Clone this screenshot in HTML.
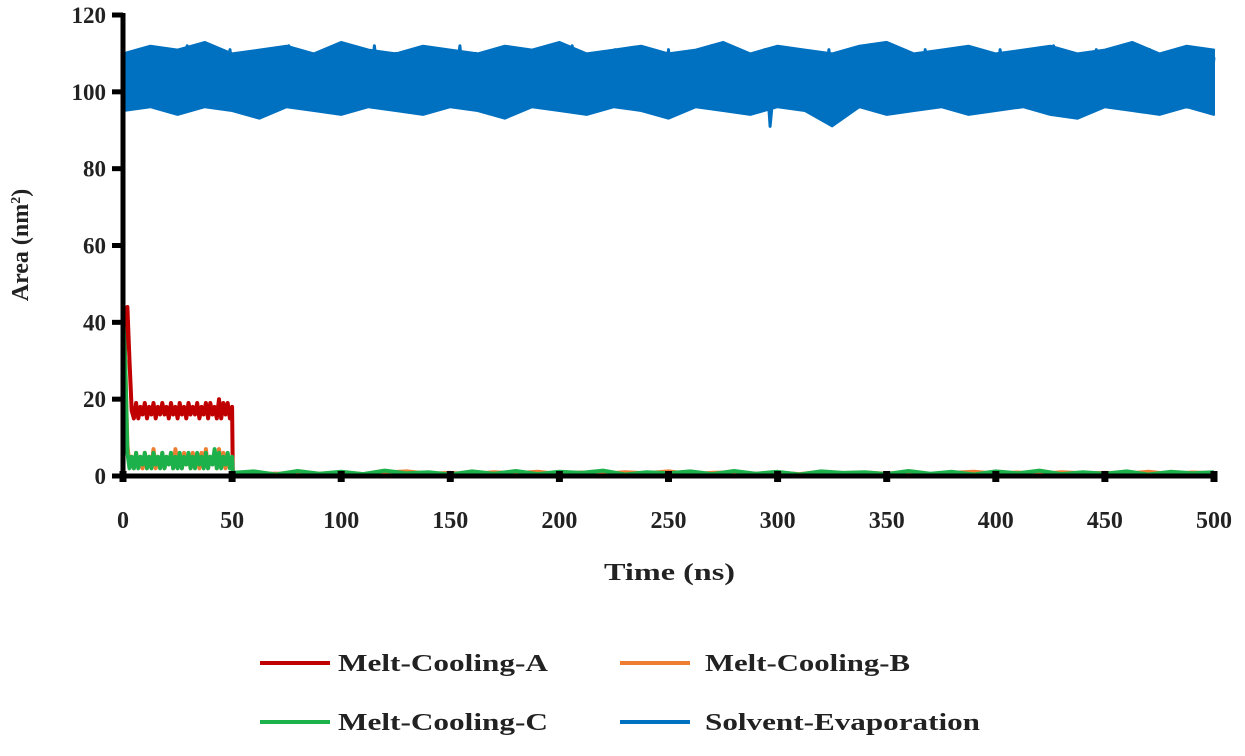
<!DOCTYPE html>
<html><head><meta charset="utf-8"><style>
body{margin:0;background:#fff}
svg text{font-family:"Liberation Serif",serif;font-weight:bold;fill:#222}
</style></head><body>
<svg id="c" width="1245" height="751" viewBox="0 0 1245 751"></svg>
<script>
const xTicks=[0,50,100,150,200,250,300,350,400,450,500];
const yTicks=[0,20,40,60,80,100,120];
const blueHigh=[110,112,111,113,110,111,112,110,113,111,110,112,111,110,112,111,113,110,111,112,110,111,113,110,112,111,110,112,113,110,111,112,110,111,112,110,111,113,110,112,111];
const blueLow=[95,96,94,96,95,93,96,95,94,96,95,94,96,95,93,96,95,94,96,95,93,96,95,94,96,95,91,96,94,95,96,94,95,96,94,93,96,95,94,96,94];
const blueVals=[96,104,109,98,111,100,107,97,110,102,106,96,112,99,108,101,110,97,105,99,111,98,107,102,109,96,104,110,99,106,97,112,101,108,98,110,100,105,97,111,99,107,96,109,102,106,98,112,100,104,97,110,101,108,99,111,96,105,102,109,98,107,100,112,97,104,110,99,106,101,108,96,111,100,105,98,109,97,107,102,110,99,104,96,112,101,106,98,109,100,107,97,111,99,105,102,108,96,110,100,104,98,111,97,107,101,109,99,106,96,112,100,105,98,110,102,107,97,108,99,111,91,106,101,109,98,104,96,110,100,107,99,111,97,105,102,108,98,110,96,106,101,112,99,104,97,109,100,107,98,111,96,105,102,108,99,110,97,106,100,109,98,104,96,111,101,107,99,110,97,105,102,108,98,112,96,106,100,109,99,104,97,111,101,107,98,110,96,105,100,108,99,111,97,106,102,109,98,104,96,110,100,107,95,109];
const redEarly=[0,36,44,30,17,15,19,15,18,16,19,15,18,16,19,15,18,16,19,16,18,15,19,16,18,15,19,16,18,15,19,16,18,16,19,15,18,16,19,15,19,16,18,15,20,15,19,16,19,15,18];
const orangeEarly=[0,30,8,3,5,2,6,3,5,2,6,2,5,3,7,2,5,3,6,2,5,3,6,2,7,3,5,2,6,3,5,2,6,3,5,2,6,3,7,2,5,3,6,2,7,3,6,2,5,3,5];
const greenEarly=[42,30,6,2,5,2,6,2,5,3,6,2,5,2,6,3,5,2,6,2,5,3,6,2,5,2,6,2,5,3,6,2,5,2,6,3,5,2,6,2,5,3,7,2,6,2,5,3,6,2,5];
const redLate=[0.5,0.4,0.6,0.3,0.5,0.6,0.4,0.5,0.3,0.6,0.5,0.4,0.6,0.5,0.3,0.5,0.6,0.4,0.5,0.3,0.6,0.4,0.5,0.6,0.4,0.5,0.3,0.6,0.5,0.4,0.6,0.5,0.3,0.5,0.6,0.4,0.5,0.3,0.6,0.4,0.5,0.6,0.4,0.5,0.3,0.5];
const orangeLate=[0.7,0.9,0.5,1.1,0.6,1.0,0.5,0.9,1.2,0.6,0.8,0.5,1.0,0.7,1.1,0.5,0.9,0.6,1.0,0.7,1.2,0.5,0.8,1.0,0.6,0.9,0.5,1.1,0.7,0.9,0.6,1.0,0.5,0.8,1.1,0.6,0.9,0.5,1.0,0.7,0.8,0.6,1.1,0.5,0.9,0.7];
const greenLate=[0.8,1.2,0.4,1.3,0.6,1.1,0.5,1.4,0.7,1.0,0.4,1.2,0.6,1.3,0.5,1.1,0.8,1.4,0.4,1.0,0.7,1.2,0.5,1.3,0.6,1.1,0.4,1.2,0.8,1.0,0.5,1.3,0.6,1.1,0.4,1.2,0.7,1.4,0.5,1.0,0.6,1.2,0.4,1.1,0.7,1.0];
const legendLabels=["Melt-Cooling-A","Melt-Cooling-B","Melt-Cooling-C","Solvent-Evaporation"];
const colors=["#c00000","#ed7d31","#1db14b","#0070c0"];

const svg=document.getElementById('c');
const NS='http://www.w3.org/2000/svg';
const X0=123,X1=1214,Y0=476,Y1=15;
const xs=v=>X0+(v/500)*(X1-X0);
const ys=v=>Y0-(v/120)*(Y0-Y1);
function mk(t,a){const e=document.createElementNS(NS,t);for(const k in a)e.setAttribute(k,a[k]);svg.appendChild(e);return e;}
function line(pts,col,w,name){
  const e=mk('polyline',{points:pts.map(p=>xs(p[0]).toFixed(1)+','+ys(p[1]).toFixed(1)).join(' '),fill:'none',stroke:col,'stroke-width':w,'stroke-linejoin':'round'});
  
  
}
function series(early,late){
  const p=early.map((v,i)=>[i,v]);
  p.push([50.3,late[0]]);
  late.forEach((v,i)=>p.push([50+i*10,v]));
  return p;
}
// blue band envelope
const n=blueHigh.length-1;
const bp=blueHigh.map((v,i)=>[i*500/n,v]).concat(blueLow.map((v,i)=>[i*500/n,v]).reverse());
const band=mk('polygon',{points:bp.map(p=>xs(p[0]).toFixed(1)+','+ys(p[1]).toFixed(1)).join(' '),fill:colors[3],stroke:colors[3],'stroke-width':2,'stroke-linejoin':'round'});


line(blueVals.map((v,i)=>[i*500/(blueVals.length-1),v]),colors[3],3,'series-solvent-evaporation');
line(series(redEarly,redLate),colors[0],4,'series-melt-cooling-a');
line(series(orangeEarly,orangeLate),colors[1],4,'series-melt-cooling-b');
line(series(greenEarly,greenLate),colors[2],4,'series-melt-cooling-c');
// axes
let a=mk('line',{x1:X0,y1:Y1-2,x2:X0,y2:Y0+3,stroke:'#000','stroke-width':5});

a=mk('line',{x1:X0-3,y1:Y0,x2:X1+2,y2:Y0,stroke:'#000','stroke-width':5});

yTicks.forEach(v=>{
  const t=mk('line',{x1:X0-11,y1:ys(v),x2:X0,y2:ys(v),stroke:'#000','stroke-width':5});
  
  const l=mk('text',{x:106,y:ys(v)+8,'text-anchor':'end','font-size':23});l.textContent=v;
  
});
xTicks.forEach(v=>{
  const t=mk('line',{x1:xs(v),y1:Y0-5,x2:xs(v),y2:Y0+6,stroke:'#000','stroke-width':7});
  
  const l=mk('text',{x:xs(v),y:528,'text-anchor':'middle','font-size':24});l.textContent=v;
  
});
let tt=mk('text',{x:604,y:580,'font-size':24,textLength:131,lengthAdjust:'spacingAndGlyphs'});tt.textContent='Time (ns)';

tt=mk('text',{x:0,y:0,'text-anchor':'middle','font-size':24,transform:'translate(28,245) rotate(-90)'});
tt.innerHTML='Area (nm<tspan font-size="14" dy="-8">2</tspan><tspan dy="8">)</tspan>';

// legend
const lx=[260,620,260,620],ly=[663,663,722,722],tx=[338,705,338,705],tw=[210,205,210,275];
legendLabels.forEach((s,i)=>{
  const g=mk('line',{x1:lx[i],y1:ly[i],x2:lx[i]+70,y2:ly[i],stroke:colors[i],'stroke-width':4});
  
  const l=mk('text',{x:tx[i],y:ly[i]+8,'font-size':24,textLength:tw[i],lengthAdjust:'spacingAndGlyphs'});l.textContent=s;
  
});
</script>
</body></html>
